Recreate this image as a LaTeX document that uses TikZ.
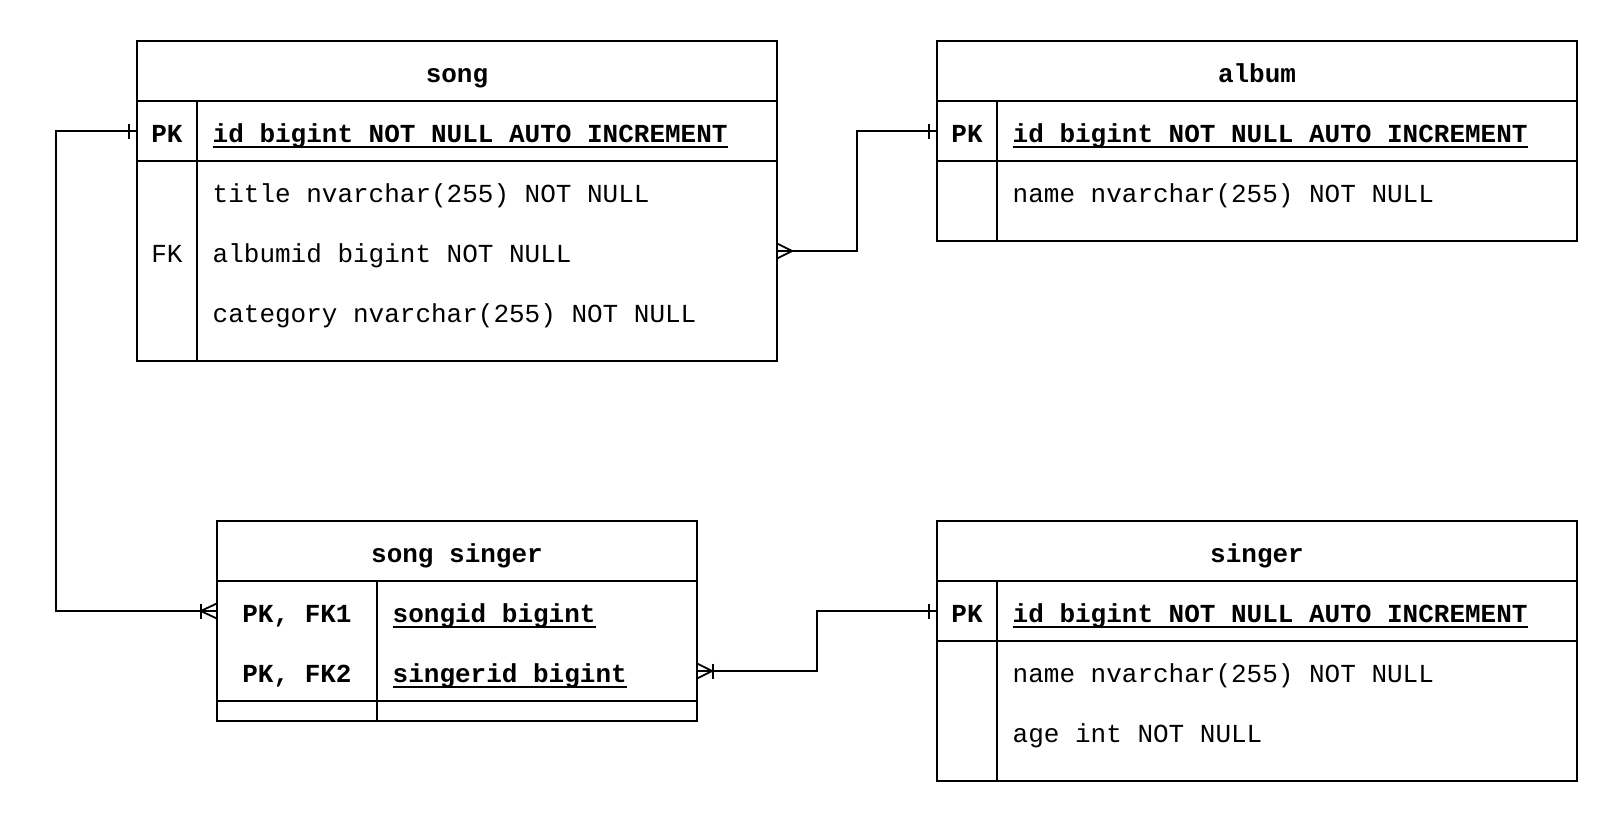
\documentclass[tikz,border=0pt]{standalone}
\usepackage{fontspec}
\setmonofont{Liberation Mono}
\newcommand\myul[1]{\setbox0\hbox{#1}\rlap{\rule[-5pt]{\wd0}{1.5pt}}\box0}
\tikzset{
  ln/.style={line width=1.8pt, line cap=rect},
  hdr/.style={font=\ttfamily\bfseries\fontsize{26}{30}\selectfont, anchor=base, inner sep=0pt},
  keyb/.style={font=\ttfamily\bfseries\fontsize{26}{30}\selectfont, anchor=base, inner sep=0pt},
  keyn/.style={font=\ttfamily\fontsize{26}{30}\selectfont, anchor=base, inner sep=0pt},
  fldb/.style={font=\ttfamily\bfseries\fontsize{26}{30}\selectfont, anchor=base west, inner sep=0pt},
  fldn/.style={font=\ttfamily\fontsize{26}{30}\selectfont, anchor=base west, inner sep=0pt},
  rowbox/.style={draw=none, inner sep=0pt, minimum height=60pt},
}
\begin{document}
\begin{tikzpicture}[x=1pt, y=-1pt]
\useasboundingbox (0,0) rectangle (1618,822);

% ---------- song ----------
\draw[ln] (137,41) rectangle (777,361);
\draw[ln] (137,101) -- (777,101);
\draw[ln] (137,161) -- (777,161);
\draw[ln] (197,101) -- (197,361);
\node[hdr] (songT) at (457,82.5) {song};
\node[keyb] (songK1) at (167,142.5) {PK};
\node[fldb] (songF1) at (212.5,142.5) {\myul{id bigint NOT NULL AUTO INCREMENT}};
\node[fldn] (songF2) at (212.5,202.5) {title nvarchar(255) NOT NULL};
\node[keyn] (songK3) at (167,262.5) {FK};
\node[fldn] (songF3) at (212.5,262.5) {albumid bigint NOT NULL};
\node[fldn] (songF4) at (212.5,322.5) {category nvarchar(255) NOT NULL};
\node[rowbox, minimum width=640pt] (songPK) at (457,131) {};
\node[rowbox, minimum width=640pt] (songFK) at (457,251) {};

% ---------- album ----------
\draw[ln] (937,41) rectangle (1577,241);
\draw[ln] (937,101) -- (1577,101);
\draw[ln] (937,161) -- (1577,161);
\draw[ln] (997,101) -- (997,241);
\node[hdr] (albumT) at (1257,82.5) {album};
\node[keyb] (albumK1) at (967,142.5) {PK};
\node[fldb] (albumF1) at (1012.5,142.5) {\myul{id bigint NOT NULL AUTO INCREMENT}};
\node[fldn] (albumF2) at (1012.5,202.5) {name nvarchar(255) NOT NULL};
\node[rowbox, minimum width=640pt] (albumPK) at (1257,131) {};

% ---------- song singer ----------
\draw[ln] (217,521) rectangle (697,721);
\draw[ln] (217,581) -- (697,581);
\draw[ln] (217,701) -- (697,701);
\draw[ln] (377,581) -- (377,721);
\node[hdr] (ssT) at (457,562.5) {song singer};
\node[keyb] (ssK1) at (297,622.5) {PK, FK1};
\node[fldb] (ssF1) at (392.5,622.5) {\myul{songid bigint}};
\node[keyb] (ssK2) at (297,682.5) {PK, FK2};
\node[fldb] (ssF2) at (392.5,682.5) {\myul{singerid bigint}};
\node[rowbox, minimum width=480pt] (ssR1) at (457,611) {};
\node[rowbox, minimum width=480pt] (ssR2) at (457,671) {};

% ---------- singer ----------
\draw[ln] (937,521) rectangle (1577,781);
\draw[ln] (937,581) -- (1577,581);
\draw[ln] (937,641) -- (1577,641);
\draw[ln] (997,581) -- (997,781);
\node[hdr] (singerT) at (1257,562.5) {singer};
\node[keyb] (singerK1) at (967,622.5) {PK};
\node[fldb] (singerF1) at (1012.5,622.5) {\myul{id bigint NOT NULL AUTO INCREMENT}};
\node[fldn] (singerF2) at (1012.5,682.5) {name nvarchar(255) NOT NULL};
\node[fldn] (singerF3) at (1012.5,742.5) {age int NOT NULL};
\node[rowbox, minimum width=640pt] (singerPK) at (1257,611) {};

% ---------- connectors ----------
\begin{scope}[line width=1.8pt]
% song.PK -> song singer.songid
\draw (songPK.west) -- ++(-80.5,0) |- (ssR1.west);
\draw ([xshift=-8pt]songPK.west) ++(0,-7.5) -- ++(0,15);
\draw ([xshift=-16pt]ssR1.west) ++(0,-7.5) -- ++(0,15);
\draw ([yshift=7.5pt]ssR1.west) -- ([xshift=-16pt]ssR1.west) -- ([yshift=-7.5pt]ssR1.west);

% song.albumid -> album.PK
\draw (songFK.east) -- ++(80,0) |- (albumPK.west);
\draw ([yshift=7.5pt]songFK.east) -- ([xshift=15pt]songFK.east) -- ([yshift=-7.5pt]songFK.east);
\draw ([xshift=-8pt]albumPK.west) ++(0,-7.5) -- ++(0,15);

% song singer.singerid -> singer.PK
\draw (ssR2.east) -- ++(120,0) |- (singerPK.west);
\draw ([yshift=7.5pt]ssR2.east) -- ([xshift=15pt]ssR2.east) -- ([yshift=-7.5pt]ssR2.east);
\draw ([xshift=15.5pt]ssR2.east) ++(0,-7.5) -- ++(0,15);
\draw ([xshift=-8pt]singerPK.west) ++(0,-7.5) -- ++(0,15);
\end{scope}
\end{tikzpicture}
\end{document}
